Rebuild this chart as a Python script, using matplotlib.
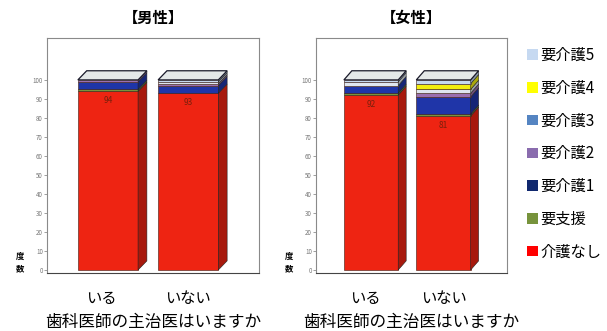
import matplotlib
matplotlib.use("Agg")
import matplotlib.pyplot as plt
from matplotlib.patches import Polygon, Patch
from matplotlib.colors import to_rgb

plt.rcParams["font.family"] = ["Noto Sans CJK JP", "DejaVu Sans"]

# data (percent)
categories = ["いる", "いない"]
levels = ["介護なし", "要支援", "要介護1", "要介護2", "要介護3", "要介護4", "要介護5"]
colors = ["#ff0000", "#77933c", "#10286e", "#8a6cae", "#5585c2", "#ffff00", "#c6d9f1"]
bar_colors = ["#ee2412", "#77933c", "#1f35a8", "#9b6fb0", "#dfe6f0", "#f2ee10", "#c6d9f1"]

male_iru = [94, 1, 4, 1, 0, 0, 0]
male_inai = [93, 0, 4, 1, 1, 0, 1]
female_iru = [92, 1, 4, 0, 2, 0, 1]
female_inai = [81, 1, 9, 2, 2, 3, 2]

panels = [
    ("【男性】", [male_iru, male_inai], [0.0774, 0.175, 0.349, 0.710]),
    ("【女性】", [female_iru, female_inai], [0.5206, 0.175, 0.315, 0.710]),
]

width = 0.75
dx = 0.11
dy = 4.8


def darker(c, f=0.7):
    r, g, b = to_rgb(c)
    return (r * f, g * f, b * f)


fig = plt.figure(figsize=(6.07, 3.31), dpi=100)

for title, series, pos in panels:
    ax = fig.add_axes(pos)
    for i, vals in enumerate(series):
        bottom = 0
        for k, v in enumerate(vals):
            if v <= 0:
                continue
            ax.bar(i, v, width=width, bottom=bottom, color=bar_colors[k],
                   edgecolor="#3a1a10", linewidth=0.4, zorder=2)
            xr = i + width / 2
            side = Polygon([(xr, bottom), (xr + dx, bottom + dy),
                            (xr + dx, bottom + v + dy), (xr, bottom + v)],
                           closed=True, facecolor=darker(bar_colors[k]),
                           edgecolor="#222222", linewidth=0.4, zorder=2)
            ax.add_patch(side)
            bottom += v
        xl = i - width / 2
        xr = i + width / 2
        top = Polygon([(xl, bottom), (xr, bottom), (xr + dx, bottom + dy),
                       (xl + dx, bottom + dy)], closed=True,
                      facecolor="#e4e8e8", edgecolor="#1a1a2a",
                      linewidth=0.9, zorder=3)
        ax.add_patch(top)
        ax.text(i, vals[0] - 5, str(vals[0]), ha="center", va="center",
                fontsize=6, color="#7a200c", zorder=4)

    ax.set_xlim(-0.76, 1.88)
    ax.set_ylim(-1.6, 122)
    ax.set_yticks(range(0, 101, 10))
    ax.tick_params(axis="y", labelsize=4.5, labelcolor="#777777", length=2,
                   width=0.5, color="#777777", pad=1)
    ax.set_xticks([-0.08, 1.0])
    ax.set_xticklabels(categories, fontsize=11)
    ax.tick_params(axis="x", length=0, pad=12)
    for s in ax.spines.values():
        s.set_color("#8a8a8a")
        s.set_linewidth(0.8)
    ax.spines["bottom"].set_color("#444444")

    cx = pos[0] + pos[2] * 0.5
    fig.text(cx, 1 - 18 / 331, title, ha="center", va="center",
             fontsize=11, fontweight="bold")
    fig.text(cx, 1 - 322 / 331, "歯科医師の主治医はいますか", ha="center",
             va="center", fontsize=12)
    fig.text(pos[0] - 0.045, 1 - 263 / 331, "度\n数", ha="center",
             va="center", fontsize=6, fontweight="bold", linespacing=1.5)

handles = [Patch(facecolor=c, edgecolor="none") for c in colors]
leg = fig.legend(handles[::-1], levels[::-1], loc="upper left",
                 bbox_to_anchor=(0.868, 1 - 47 / 331), frameon=False,
                 prop={"size": 11},
                 handlelength=0.7, handleheight=0.7, handletextpad=0.2,
                 labelspacing=1.03, borderpad=0, borderaxespad=0)

fig.savefig("out.png", dpi=100)
